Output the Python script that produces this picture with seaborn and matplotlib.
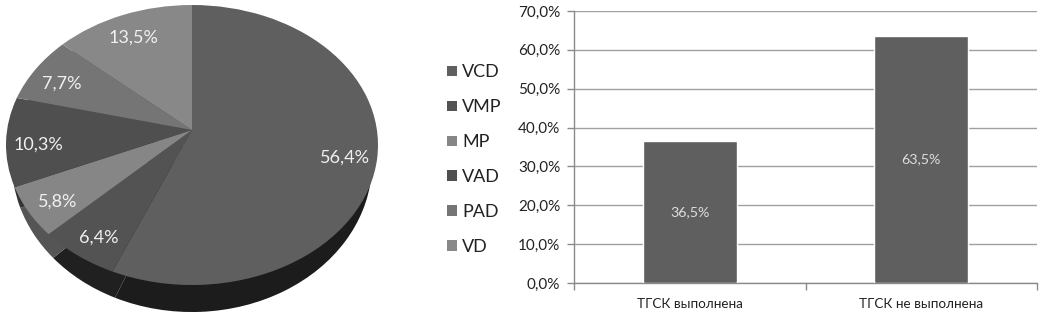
import matplotlib
matplotlib.use("Agg")
import matplotlib.pyplot as plt
from matplotlib.patches import Patch
from matplotlib.transforms import Transform, Affine2D
import numpy as np
import pandas as pd
import seaborn as sns

pie_labels = ["VCD", "VMP", "MP", "VAD", "PAD", "VD"]
pie_values = [56.4, 6.4, 5.8, 10.3, 7.7, 13.5]
pie_colors = ["#5f5f5f", "#535353", "#868686", "#4f4f4f", "#757575", "#888888"]
side_colors = ["#1c1c1c", "#202020", "#555555", "#333333", "#444444", "#444444"]
bar_labels = ["ТГСК выполнена", "ТГСК не выполнена"]
bar_values = [36.5, 63.5]
y_ticks = [0, 10, 20, 30, 40, 50, 60, 70]

W, H = 1046, 317
sns.set_style("white")
plt.rcParams["font.family"] = ["Lato", "Noto Sans"]
fig = plt.figure(figsize=(W / 100, H / 100), dpi=100, facecolor="white")


def pct(v):
    return f"{v:.1f}".replace(".", ",") + "%"


class Perspective(Transform):
    """Tilted-disc projection: keeps the unit circle, moves the apex upward."""
    input_dims = output_dims = 2
    is_separable = False

    def __init__(self, a):
        super().__init__()
        self.a = a

    def transform_non_affine(self, xy):
        xy = np.asarray(xy, float)
        d = 1 + self.a * xy[:, 1]
        return np.column_stack((xy[:, 0] * np.sqrt(1 - self.a ** 2) / d, (xy[:, 1] + self.a) / d))


persp = Perspective(0.107)

# Pie axes: x -1..1 covers px 6..378, y -1..1 covers px 285..5; extra room below for the rim
ax = fig.add_axes([6 / W, 1 - (285 + 140 * 0.23) / H, 372 / W, (280 + 140 * 0.23) / H])
side = ax.pie(pie_values, colors=side_colors, startangle=90, counterclock=False,
              wedgeprops=dict(linewidth=0))[0]
# The lower rim is a slightly narrower, lower ellipse in perspective
shift = Affine2D().scale(0.968, 1.064).translate(0, -0.129)
for w in side:
    w.set_transform(persp + shift + ax.transData)
wedges, _, autotexts = ax.pie(pie_values, colors=pie_colors, startangle=90, counterclock=False,
                              autopct="%.1f", pctdistance=0.83,
                              wedgeprops=dict(linewidth=0),
                              textprops=dict(color="#f0f0f0", fontsize=13))
for w in wedges:
    w.set_transform(persp + ax.transData)
label_shift = Affine2D().translate(0, -0.035)
for t, v in zip(autotexts, pie_values):
    t.set_text(pct(v))
    t.set_transform(persp + label_shift + ax.transData)
ax.set_aspect("auto")
ax.set_xlim(-1, 1)
ax.set_ylim(-1.23, 1)
ax.axis("off")

handles = [Patch(facecolor=c, edgecolor="none", label=l) for c, l in zip(pie_colors, pie_labels)]
fig.legend(handles=handles, loc="upper left", bbox_to_anchor=(442 / W, 1 - 59 / H), frameon=False,
           fontsize=13, handlelength=0.55, handleheight=0.55, handletextpad=0.28,
           labelspacing=1.05, labelcolor="#222222", borderpad=0.3, borderaxespad=0)

# Bar axes
bx = fig.add_axes([574 / W, 1 - 283 / H, 463 / W, 272 / H])
df = pd.DataFrame({"group": bar_labels, "value": bar_values})
sns.barplot(data=df, x="group", y="value", color="#5f5f5f", saturation=1, width=0.405, ax=bx, zorder=3)
bx.set_xlim(-0.5, 1.5)
bx.set_ylim(0, 70)
bx.set_xlabel("")
bx.set_ylabel("")
bx.set_yticks(y_ticks)
bx.set_yticklabels([pct(v) for v in y_ticks], fontsize=11, color="#222222")
bx.set_xticks([-0.5, 0.5, 1.5])
bx.set_xticklabels([])
bx.set_xticks([0, 1], labels=bar_labels, minor=True, fontsize=9.7, color="#222222")
bx.tick_params(axis="x", which="major", length=5, width=1, color="#8a8a8a", bottom=True)
bx.tick_params(axis="x", which="minor", length=0, pad=11, bottom=False)
bx.tick_params(axis="y", length=5, width=1, color="#8a8a8a", left=True, pad=5)
bx.grid(axis="y", color="#a0a0a0", linewidth=1)
bx.grid(axis="x", visible=False)
bx.set_axisbelow(True)
for s in ["top", "right"]:
    bx.spines[s].set_visible(False)
for s in ["left", "bottom"]:
    bx.spines[s].set_color("#8a8a8a")
    bx.spines[s].set_linewidth(1)
for c, v in zip(bx.containers[0], bar_values):
    bx.text(c.get_x() + c.get_width() / 2, v / 2, pct(v), ha="center", va="center",
            color="#dddddd", fontsize=10.3, zorder=4)

fig.savefig("out.png", dpi=100, facecolor="white")
